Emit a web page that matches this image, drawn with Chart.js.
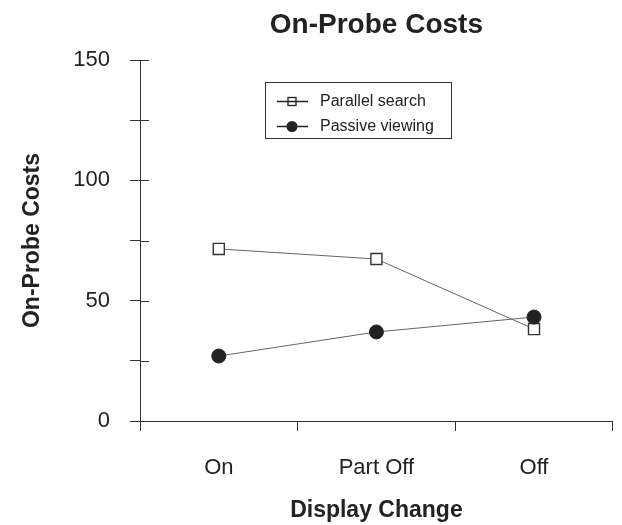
<!DOCTYPE html>
<html>
<head>
<meta charset="utf-8">
<script src="https://cdn.jsdelivr.net/npm/chart.js@4"></script>
<style>
  html, body { margin: 0; padding: 0; background: #fff; }
  #wrap { width: 622px; height: 525px; }
</style>
</head>
<body>
<div id="wrap"><canvas id="costChart" width="622" height="525"></canvas></div>
<script>
const CONDITIONS = ["On", "Part Off", "Off"];
const PARALLEL_SEARCH = [71.5, 67.3, 38.2];
const PASSIVE_VIEWING = [27.0, 37.0, 43.2];
const Y_LABELS = [0, 50, 100, 150];

const FONT = '"Liberation Sans", Arial, sans-serif';
const INK = "#222";
const AXIS = "#333";

// chart title, centred over the plot area rather than the canvas
const titlePlugin = {
  id: "plotTitle",
  afterDraw(chart) {
    const { ctx, chartArea } = chart;
    ctx.save();
    ctx.font = `bold 28px ${FONT}`;
    ctx.fillStyle = INK;
    ctx.textAlign = "center";
    ctx.textBaseline = "middle";
    ctx.fillText("On-Probe Costs", (chartArea.left + chartArea.right) / 2, 25);
    ctx.restore();
  },
};

// the y ticks cross the axis, so add the part inside the plot
const innerTicks = {
  id: "innerTicks",
  afterDraw(chart) {
    const { ctx, chartArea } = chart;
    const y = chart.scales.y;
    ctx.save();
    ctx.strokeStyle = AXIS;
    ctx.lineWidth = 1;
    y.ticks.forEach((t) => {
      const py = Math.round(y.getPixelForValue(t.value)) + 0.5;
      ctx.beginPath();
      ctx.moveTo(chartArea.left, py);
      ctx.lineTo(chartArea.left + 9, py);
      ctx.stroke();
    });
    ctx.restore();
  },
};

// boxed legend sitting inside the plot
const legendBox = {
  id: "legendBox",
  afterDraw(chart) {
    const { ctx } = chart;
    const x0 = 265, y0 = 82, w = 186, h = 56;
    ctx.save();
    ctx.strokeStyle = AXIS;
    ctx.lineWidth = 1;
    ctx.strokeRect(x0 + 0.5, y0 + 0.5, w, h);
    ctx.font = `16px ${FONT}`;
    ctx.textBaseline = "middle";
    chart.data.datasets.forEach((ds, i) => {
      const cy = y0 + 19.5 + i * 25;
      ctx.strokeStyle = INK;
      ctx.lineWidth = 1.5;
      ctx.beginPath();
      ctx.moveTo(x0 + 12, cy);
      ctx.lineTo(x0 + 43, cy);
      ctx.stroke();
      const cx = x0 + 27;
      if (ds.pointStyle === "rect") {
        ctx.lineWidth = 1.3;
        ctx.strokeRect(cx - 4, cy - 4, 8, 8);
      } else {
        ctx.fillStyle = INK;
        ctx.beginPath();
        ctx.arc(cx, cy, 5.5, 0, Math.PI * 2);
        ctx.fill();
      }
      ctx.fillStyle = INK;
      ctx.fillText(ds.label, x0 + 55, cy);
    });
    ctx.restore();
  },
};

new Chart(document.getElementById("costChart"), {
  type: "line",
  data: {
    labels: CONDITIONS,
    datasets: [
      {
        label: "Parallel search",
        data: PARALLEL_SEARCH,
        borderColor: "#666",
        borderWidth: 1,
        pointStyle: "rect",
        pointRadius: 7.8,
        pointBackgroundColor: "#fff",
        pointBorderColor: AXIS,
        pointBorderWidth: 1.4,
        order: 1,
      },
      {
        label: "Passive viewing",
        data: PASSIVE_VIEWING,
        borderColor: "#666",
        borderWidth: 1,
        pointStyle: "circle",
        pointRadius: 7,
        pointBackgroundColor: INK,
        pointBorderColor: INK,
        pointBorderWidth: 1,
        order: 0,
      },
    ],
  },
  options: {
    responsive: false,
    animation: false,
    devicePixelRatio: 1,
    layout: { padding: { top: 60, right: 8, left: 0, bottom: 0 } },
    plugins: {
      legend: { display: false },
      tooltip: { enabled: false },
      title: { display: false },
    },
    scales: {
      x: {
        offset: true,
        afterFit: (s) => { s.height = 104; },
        grid: {
          offset: true,
          drawOnChartArea: false,
          drawTicks: true,
          tickLength: 10,
          color: AXIS,
        },
        border: { color: AXIS, width: 1 },
        ticks: { color: INK, font: { family: FONT, size: 22 }, padding: 24 },
        title: {
          display: true,
          text: "Display Change",
          color: INK,
          font: { family: FONT, size: 23, weight: "bold" },
          padding: { top: 0, bottom: 1 },
        },
      },
      y: {
        min: 0,
        max: 150,
        afterFit: (s) => { s.width = 140; },
        grid: {
          drawOnChartArea: false,
          drawTicks: true,
          tickLength: 10,
          color: AXIS,
        },
        border: { color: AXIS, width: 1 },
        ticks: {
          stepSize: 25,
          color: INK,
          font: { family: FONT, size: 22 },
          padding: 20,
          callback: (v) => (Y_LABELS.includes(v) ? String(v) : ""),
        },
        title: {
          display: true,
          text: "On-Probe Costs",
          color: INK,
          font: { family: FONT, size: 23, weight: "bold" },
          padding: { top: 19, bottom: 0 },
        },
      },
    },
  },
  plugins: [titlePlugin, innerTicks, legendBox],
});
</script>
</body>
</html>
